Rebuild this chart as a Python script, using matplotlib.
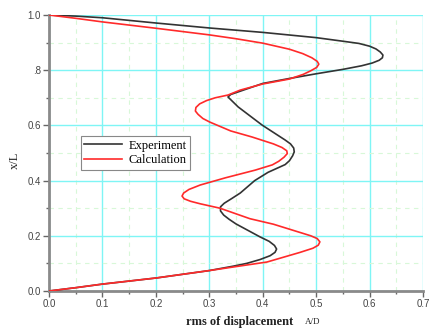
import matplotlib
matplotlib.use("Agg")
import matplotlib.pyplot as plt
from matplotlib.ticker import MultipleLocator, FixedLocator, FixedFormatter

# Experiment (black) : x = rms displacement, y = x/L
exp_x = [0.0, 0.05, 0.1, 0.2, 0.3, 0.4, 0.5, 0.55, 0.58, 0.6, 0.612, 0.62, 0.625, 0.624,
         0.618, 0.605, 0.585, 0.55, 0.5, 0.45, 0.4, 0.358, 0.34, 0.335, 0.354, 0.399,
         0.442, 0.452, 0.458, 0.459, 0.456, 0.45, 0.442, 0.41, 0.385, 0.358, 0.342,
         0.328, 0.321, 0.321, 0.327, 0.337, 0.35, 0.395, 0.412, 0.422, 0.426, 0.423,
         0.414, 0.395, 0.37, 0.345, 0.3, 0.2, 0.1, 0.05, 0.0]
exp_y = [1.0, 0.996, 0.99, 0.971, 0.953, 0.937, 0.918, 0.905, 0.897, 0.887, 0.877, 0.866,
         0.855, 0.845, 0.836, 0.826, 0.816, 0.803, 0.787, 0.77, 0.752, 0.724, 0.712, 0.703,
         0.667, 0.601, 0.547, 0.533, 0.518, 0.504, 0.49, 0.472, 0.458, 0.43, 0.40, 0.355,
         0.335, 0.318, 0.305, 0.29, 0.275, 0.26, 0.243, 0.196, 0.18, 0.165, 0.152, 0.14,
         0.128, 0.114, 0.10, 0.09, 0.074, 0.047, 0.025, 0.012, 0.0]

# Calculation (red)
cal_x = [0.0, 0.05, 0.1, 0.2, 0.3, 0.35, 0.4, 0.45, 0.475, 0.492, 0.502, 0.505, 0.501,
         0.49, 0.476, 0.45, 0.4, 0.358, 0.335, 0.311, 0.295, 0.282, 0.275, 0.274, 0.279,
         0.288, 0.301, 0.34, 0.38, 0.42, 0.436, 0.445, 0.446, 0.44, 0.43, 0.418, 0.386,
         0.33, 0.283, 0.262, 0.252, 0.249, 0.253, 0.265, 0.283, 0.32, 0.376, 0.42, 0.47,
         0.49, 0.502, 0.507, 0.504, 0.494, 0.47, 0.408, 0.345, 0.3, 0.2, 0.1, 0.05, 0.0]
cal_y = [1.0, 0.988, 0.975, 0.952, 0.928, 0.914, 0.898, 0.876, 0.86, 0.845, 0.832, 0.822,
         0.81, 0.798, 0.785, 0.768, 0.75, 0.728, 0.71, 0.70, 0.69, 0.678, 0.665, 0.652,
         0.64, 0.625, 0.612, 0.58, 0.558, 0.533, 0.52, 0.508, 0.498, 0.485, 0.47, 0.457,
         0.438, 0.41, 0.384, 0.368, 0.355, 0.344, 0.334, 0.325, 0.316, 0.30, 0.262,
         0.242, 0.212, 0.20, 0.19, 0.178, 0.166, 0.155, 0.14, 0.105, 0.087, 0.074,
         0.047, 0.025, 0.012, 0.0]

xticks = [0.0, 0.1, 0.2, 0.3, 0.4, 0.5, 0.6, 0.7]
xticklabels = ["0.0", "0.1", "0.2", "0.3", "0.4", "0.5", "0.6", "0.7"]
yticks = [0.0, 0.2, 0.4, 0.6, 0.8, 1.0]
yticklabels = ["0.0", "0.2", "0.4", "0.6", ".8", "1.0"]

fig = plt.figure(figsize=(4.3, 3.29), dpi=100)
ax = fig.add_axes([49/430, 38/329, 374/430, 276/329])

ax.set_xlim(0, 0.7)
ax.set_ylim(0, 1.0)

ax.xaxis.set_major_locator(FixedLocator(xticks))
ax.xaxis.set_major_formatter(FixedFormatter(xticklabels))
ax.yaxis.set_major_locator(FixedLocator(yticks))
ax.yaxis.set_major_formatter(FixedFormatter(yticklabels))
ax.xaxis.set_minor_locator(MultipleLocator(0.05))
ax.yaxis.set_minor_locator(MultipleLocator(0.1))

ax.grid(True, which="major", color="#7ff5f5", lw=1.0, ls="-", zorder=0)
ax.grid(True, which="minor", color="#d8f8d8", lw=0.8, ls=(0, (4, 4)), zorder=0)
ax.set_axisbelow(True)

for s in ["top", "right"]:
    ax.spines[s].set_visible(False)
for s in ["left", "bottom"]:
    ax.spines[s].set_color("#8a8a8a")
    ax.spines[s].set_linewidth(2.0)

ax.tick_params(which="major", direction="out", length=4, width=1, color="#666666",
               labelsize=7, labelcolor="#444444", pad=2)
ax.tick_params(which="minor", direction="out", length=2, width=1, color="#666666")
for lab in ax.get_xticklabels() + ax.get_yticklabels():
    lab.set_family("Liberation Sans")

ax.plot(exp_x, exp_y, color="#333333", lw=1.2, label="Experiment", zorder=3,
        solid_joinstyle="round")
ax.plot(cal_x, cal_y, color="#ff2a2a", lw=1.2, label="Calculation", zorder=3,
        solid_joinstyle="round")

leg = ax.legend(loc="upper left", bbox_to_anchor=(0.068, 0.585), fancybox=False,
                framealpha=1, edgecolor="#888888", handlelength=3.0,
                borderpad=0.3, labelspacing=0.2, handletextpad=0.5,
                prop={"family": "Liberation Serif", "size": 9})
leg.get_frame().set_linewidth(0.8)

fig.text(240/430, 1 - 322/329, "rms of displacement", family="Liberation Serif",
         fontsize=9, fontweight="bold", ha="center", va="center", color="#222222")
fig.text(313/430, 1 - 322/329, "A/D", family="Liberation Serif",
         fontsize=6.5, ha="center", va="center", color="#222222")
fig.text(15/430, 1 - 160/329, "x/L", family="Liberation Serif", fontsize=9,
         rotation=90, ha="center", va="center", color="#222222")

fig.savefig("out.png", dpi=100)
